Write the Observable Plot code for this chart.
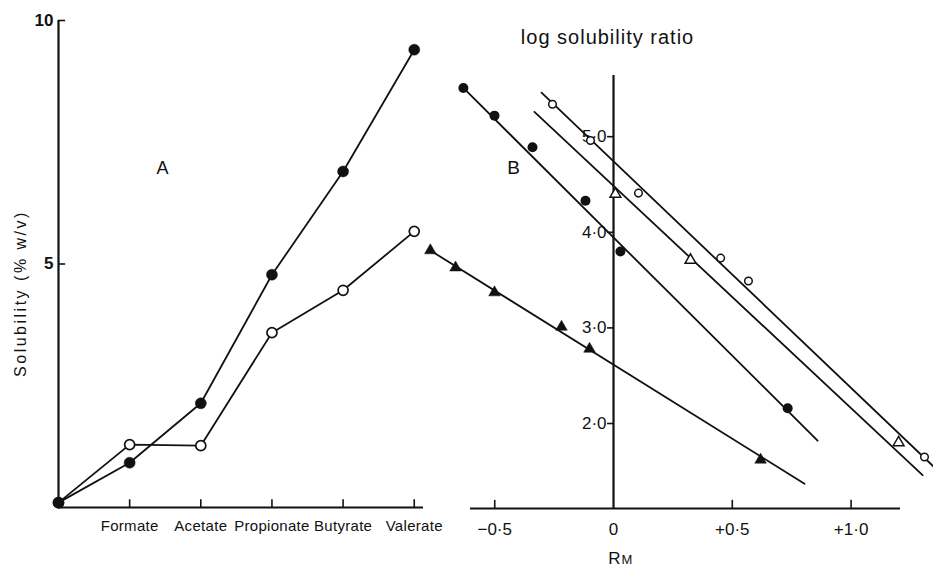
<!DOCTYPE html>
<html>
<head>
<meta charset="utf-8">
<script src="https://cdn.jsdelivr.net/npm/d3@7"></script>
<script src="https://cdn.jsdelivr.net/npm/@observablehq/plot@0.6"></script>
<style>
  body { margin: 0; background: #fff; }
  #wrap { position: relative; width: 933px; height: 568px; background: #fff; }
  #wrap svg { position: absolute; left: 0; top: 0; }
</style>
</head>
<body>
<div id="wrap"></div>
<script>
// ---------- Panel A data ----------
const aCategories = ["", "Formate", "Acetate", "Propionate", "Butyrate", "Valerate"];
const aIndex = [0, 1, 2, 3, 4, 5];
const aFilled = [0.1, 0.92, 2.14, 4.78, 6.90, 9.40];
const aOpen = [0.1, 1.29, 1.27, 3.59, 4.46, 5.67];
const aYTicks = [5, 10];
const aYDomain = [0, 10];
const aXDomain = [0, 5.13];
const aYLabel = "Solubility (% w/v)";

// ---------- Panel B data ----------
const bFilledCircleRm = [-0.632, -0.501, -0.341, -0.118, 0.029, 0.733];
const bFilledCircleLog = [5.51, 5.22, 4.89, 4.33, 3.80, 2.16];
const bOpenCircleRm = [-0.257, -0.097, 0.105, 0.451, 0.568, 1.309];
const bOpenCircleLog = [5.34, 4.96, 4.41, 3.73, 3.49, 1.65];
const bOpenTriangleRm = [0.008, 0.324, 1.20];
const bOpenTriangleLog = [4.40, 3.71, 1.80];
const bFilledTriangleRm = [-0.771, -0.665, -0.501, -0.219, -0.101, 0.619];
const bFilledTriangleLog = [3.81, 3.63, 3.37, 3.01, 2.78, 1.62];
// fitted straight lines (end points)
const bFitFilledCircleRm = [-0.632, 0.859];
const bFitFilledCircleLog = [5.51, 1.82];
const bFitOpenCircleRm = [-0.303, 1.347];
const bFitOpenCircleLog = [5.46, 1.55];
const bFitOpenTriangleRm = [-0.333, 1.301];
const bFitOpenTriangleLog = [5.26, 1.46];
const bFitFilledTriangleRm = [-0.771, 0.804];
const bFitFilledTriangleLog = [3.81, 1.37];
const bXTicks = [-0.5, 0, 0.5, 1.0];
const bXTickLabels = ["\u22120\u00b75", "0", "+0\u00b75", "+1\u00b70"];
const bYTicks = [2, 3, 4, 5];
const bYTickLabels = ["2\u00b70", "3\u00b70", "4\u00b70", "5\u00b70"];
const bXDomain = [-0.602, 1.208];
const bYDomain = [1.111, 5.64];
const bTitle = "log solubility ratio";

const ink = "#111";
const font = "'Liberation Sans', Arial, sans-serif";
const pts = (xs, ys) => xs.map((x, i) => ({x, y: ys[i]}));

// ---------- Panel A ----------
const plotA = Plot.plot({
  width: 933, height: 568,
  marginLeft: 58, marginRight: 510, marginTop: 20, marginBottom: 61,
  x: {domain: aXDomain, axis: null},
  y: {domain: aYDomain, axis: null},
  style: {background: "transparent", fontFamily: font, color: ink},
  marks: [
    Plot.ruleX([0], {stroke: ink, strokeWidth: 2.2}),
    Plot.ruleY([0], {stroke: ink, strokeWidth: 2.2}),
    Plot.ruleX(aIndex.slice(1), {x: d => d, y: 0.16, stroke: ink, strokeWidth: 1.6}),
    Plot.ruleY(aYTicks, {y: d => d, x: 0.1, stroke: ink, strokeWidth: 1.6}),
    Plot.axisY(aYTicks, {tickSize: 0, tickPadding: 5, fontSize: 17, fontWeight: "bold", label: null}),
    Plot.axisX(aIndex.slice(1), {tickSize: 0, tickPadding: 13, fontSize: 15, tickFormat: i => aCategories[i], label: null}),
    Plot.line(aIndex, {x: i => i, y: i => aFilled[i], stroke: ink, strokeWidth: 1.8}),
    Plot.line(aIndex, {x: i => i, y: i => aOpen[i], stroke: ink, strokeWidth: 1.8}),
    Plot.dot(aIndex, {x: i => i, y: i => aOpen[i], r: 5, fill: "white", stroke: ink, strokeWidth: 1.7}),
    Plot.dot(aIndex, {x: i => i, y: i => aFilled[i], r: 5.5, fill: ink, stroke: ink, strokeWidth: 0.5}),
    Plot.text(["A"], {frameAnchor: "top-left", dx: 104, dy: 148, fontSize: 18, textAnchor: "middle", lineAnchor: "middle", fill: ink}),
    Plot.text([aYLabel], {frameAnchor: "left", dx: -38, dy: 29.5, rotate: -90, fontSize: 16, textAnchor: "middle", lineAnchor: "middle", fill: ink})
  ]
});

// ---------- Panel B ----------
const fcPts = pts(bFilledCircleRm, bFilledCircleLog);
const ocPts = pts(bOpenCircleRm, bOpenCircleLog);
const otPts = pts(bOpenTriangleRm, bOpenTriangleLog);
const ftPts = pts(bFilledTriangleRm, bFilledTriangleLog);
const fits = [
  pts(bFitFilledCircleRm, bFitFilledCircleLog),
  pts(bFitOpenCircleRm, bFitOpenCircleLog),
  pts(bFitOpenTriangleRm, bFitOpenTriangleLog),
  pts(bFitFilledTriangleRm, bFitFilledTriangleLog)
];

const plotB = Plot.plot({
  width: 933, height: 568,
  marginLeft: 470, marginRight: 33, marginTop: 75, marginBottom: 60,
  x: {domain: bXDomain, axis: null},
  y: {domain: bYDomain, axis: null},
  style: {background: "transparent", fontFamily: font, color: ink},
  marks: [
    Plot.ruleY([bYDomain[0]], {stroke: ink, strokeWidth: 2.2}),
    Plot.ruleX([0], {stroke: ink, strokeWidth: 2.2}),
    Plot.ruleX(bXTicks.filter(d => d !== 0), {x: d => d, y1: bYDomain[0], y2: bYDomain[0] + 0.085, stroke: ink, strokeWidth: 1.6}),
    Plot.ruleY(bYTicks, {y: d => d, x: -0.025, stroke: ink, strokeWidth: 1.6}),
    Plot.text(bYTicks, {x: 0, y: d => d, text: (d, i) => bYTickLabels[i], textAnchor: "end", dx: -7, fontSize: 17, fill: ink}),
    Plot.axisX(bXTicks, {tickSize: 0, tickPadding: 14, fontSize: 17, tickFormat: d => bXTickLabels[bXTicks.indexOf(d)], label: null}),
    ...fits.map(f => Plot.line(f, {x: "x", y: "y", stroke: ink, strokeWidth: 1.8})),
    Plot.dot(fcPts, {x: "x", y: "y", r: 5, fill: ink}),
    Plot.dot(ocPts, {x: "x", y: "y", r: 3.8, fill: "white", stroke: ink, strokeWidth: 1.5}),
    Plot.dot(otPts, {x: "x", y: "y", r: 4, symbol: "triangle", fill: "white", stroke: ink, strokeWidth: 1.5}),
    Plot.dot(ftPts, {x: "x", y: "y", r: 4.3, symbol: "triangle", fill: ink, stroke: ink, strokeWidth: 0.5}),
    Plot.text([bTitle], {x: 0, frameAnchor: "top", dx: -6, dy: -38, fontSize: 20, textAnchor: "middle", lineAnchor: "middle", fill: ink}),
    Plot.text(["B"], {frameAnchor: "top-left", dx: 43, dy: 92, fontSize: 19, textAnchor: "middle", lineAnchor: "middle", fill: ink}),
    Plot.text(["R"], {x: 0, frameAnchor: "bottom", dx: 7, dy: 55, fontSize: 17, textAnchor: "end", lineAnchor: "bottom", fill: ink}),
    Plot.text(["M"], {x: 0, frameAnchor: "bottom", dx: 8, dy: 55, fontSize: 13, textAnchor: "start", lineAnchor: "bottom", fill: ink})
  ]
});

const wrap = document.getElementById("wrap");
wrap.appendChild(plotA);
wrap.appendChild(plotB);

// letter spacing for the wide lettering of the original
for (const t of plotA.querySelectorAll("text")) {
  if (t.textContent === aYLabel) t.setAttribute("letter-spacing", "2.5");
  else if (aCategories.includes(t.textContent)) t.setAttribute("letter-spacing", "0.3");
}
for (const t of plotB.querySelectorAll("text")) {
  if (t.textContent === bTitle) t.setAttribute("letter-spacing", "1");
}
</script>
</body>
</html>
